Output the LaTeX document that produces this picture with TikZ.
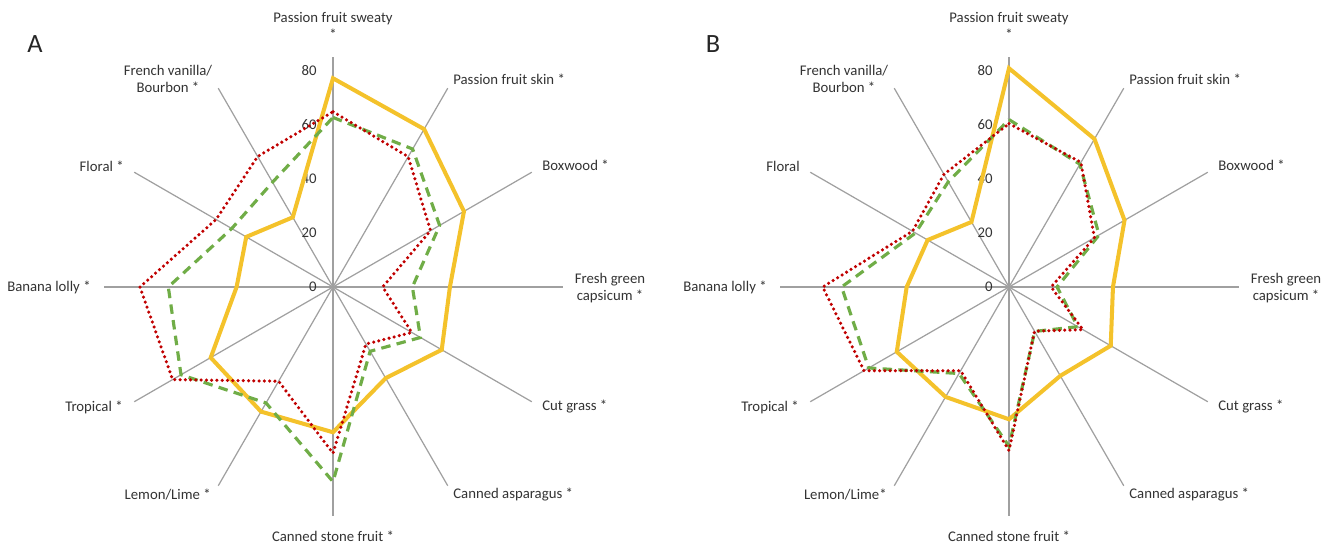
\documentclass[tikz,border=0pt]{standalone}
\usepackage{fontspec}
\setmainfont{Carlito}

\definecolor{axisgray}{HTML}{A0A0A0}
\definecolor{ygold}{HTML}{F4C22B}
\definecolor{dgreen}{HTML}{70AD47}
\definecolor{dred}{HTML}{C00000}

\def\rs{2.7}% px per score point

\tikzset{
  spoke/.style={draw=axisgray, line width=0.7pt},
  catlabel/.style={font=\fontsize{8.4}{10}\selectfont, text=black!80, align=center, inner sep=0pt},
  ticklabel/.style={font=\fontsize{8.4}{10}\selectfont, text=black!80, anchor=east, inner sep=0pt},
  panel/.style={font=\fontsize{15}{18}\selectfont, text=black!85, inner sep=0pt},
  solidseries/.style={draw=ygold, line width=2.3pt},
  dashseries/.style={draw=dgreen, line width=1.8pt, dash pattern=on 5.4pt off 3.6pt},
  dotseries/.style={draw=dred, line width=2pt, line cap=round, dash pattern=on 0pt off 3pt}
}

% spokes, scale and attribute names of one panel
\newcommand{\radarframe}[3]{%
  \foreach \a in {0,30,...,330}
    \draw[spoke] (0,0) -- (\a:85*\rs);
  \foreach \t in {0,20,40,60,80}
    \node[ticklabel] at (-16,\t*\rs) {\t};
  \node[catlabel] (#1-sweaty) at (0,261) {Passion fruit sweaty\\*};
  \node[catlabel, anchor=west] (#1-skin) at (120,208) {Passion fruit skin *};
  \node[catlabel, anchor=west] (#1-boxwood) at (209,122) {Boxwood *};
  \node[catlabel] (#1-capsicum) at (277,-1) {Fresh green\\capsicum *};
  \node[catlabel, anchor=west] (#1-grass) at (209,-120) {Cut grass *};
  \node[catlabel, anchor=west] (#1-asparagus) at (120,-208) {Canned asparagus *};
  \node[catlabel] (#1-stone) at (0,-249) {Canned stone fruit *};
  \node[catlabel, anchor=east] (#1-lemon) at (-122,-208) {#3};
  \node[catlabel, anchor=east] (#1-tropical) at (-210,-120) {Tropical *};
  \node[catlabel, anchor=east] (#1-banana) at (-242,0) {Banana lolly *};
  \node[catlabel, anchor=east] (#1-floral) at (-209,121) {#2};
  \node[catlabel] (#1-vanilla) at (-165,208) {French vanilla/\\Bourbon *};
}

\begin{document}
\begin{tikzpicture}[x=0.02cm, y=0.02cm]
\useasboundingbox (0,0) rectangle (1331,546);
%
\node[panel] (labelA) at (35,502) {A};
\node[panel] (labelB) at (713,502) {B};
%
%% panel A
\begin{scope}[shift={(333,259)}]
\radarframe{A}{Floral *}{Lemon/Lime *}
\draw[solidseries] (90:77.3*\rs) \foreach \v [count=\i] in {67.5,56,43.3,46.5,39,53.8,53.3,52.3,35.7,37.1,29.8} {-- ({90-30*\i}:\v*\rs)} -- cycle;
\draw[dashseries] (90:62.8*\rs) \foreach \v [count=\i] in {59,45.6,29.4,37.4,27.5,72.1,49.6,65,61,43.3,44.8} {-- ({90-30*\i}:\v*\rs)} -- cycle;
\draw[dotseries] (90:64.9*\rs) \foreach \v [count=\i] in {55.7,41.7,18.4,33.7,24.4,61.6,40.3,68.6,71.5,50,55.8} {-- ({90-30*\i}:\v*\rs)} -- cycle;
\end{scope}
%
%% panel B
\begin{scope}[shift={(1009,259)}]
\radarframe{B}{Floral}{Lemon/Lime*}
\draw[solidseries] (90:81*\rs) \foreach \v [count=\i] in {63.3,49.4,38.5,43.5,38,49,47,48,37.9,34.8,27.8} {-- ({90-30*\i}:\v*\rs)} -- cycle;
\draw[dashseries] (90:62*\rs) \foreach \v [count=\i] in {52.5,38.5,17.8,29.4,19,59,37,60,62,40,45} {-- ({90-30*\i}:\v*\rs)} -- cycle;
\draw[dotseries] (90:60.5*\rs) \foreach \v [count=\i] in {53.3,36.5,15.6,31.6,18.9,60.6,35.8,62,69,41.3,48.2} {-- ({90-30*\i}:\v*\rs)} -- cycle;
\end{scope}
\end{tikzpicture}
\end{document}
